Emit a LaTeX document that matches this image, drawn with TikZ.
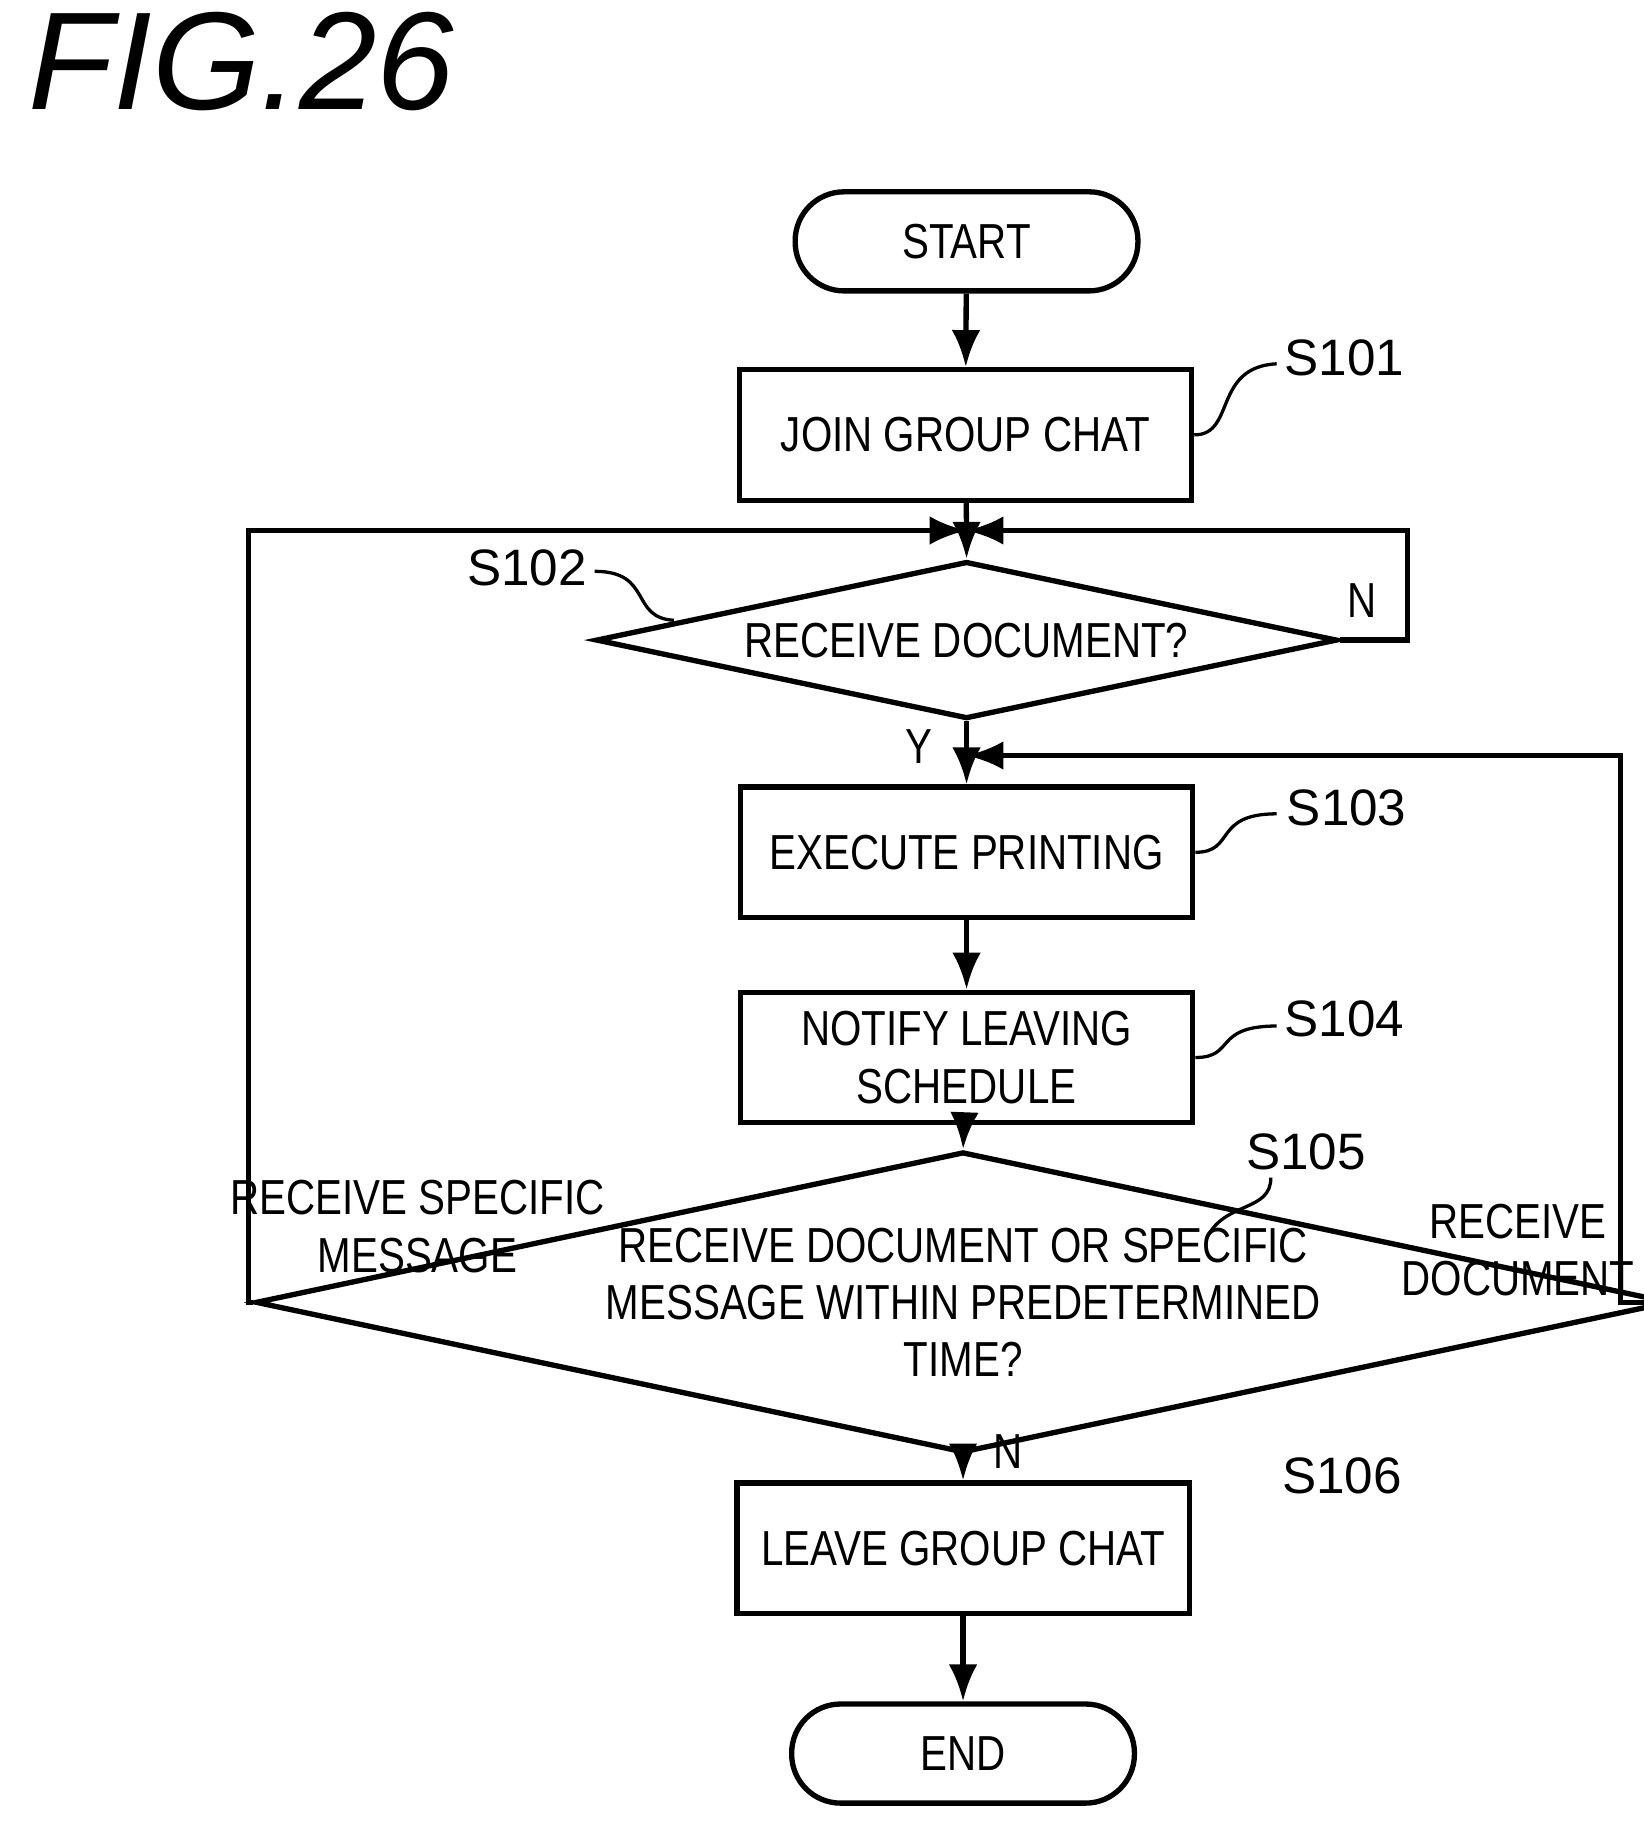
\documentclass[tikz,border=0pt]{standalone}
\usepackage{fontspec}
\setmainfont{Liberation Sans}[FakeStretch=0.82]
\newfontfamily\steplabel{Liberation Sans}
\usetikzlibrary{shapes.geometric,arrows.meta}
\tikzset{
  flow/.style={line width=1.3pt},
  arr/.style={flow,-{Latex[length=9pt,width=7pt]}},
  box/.style={draw,flow,rectangle,minimum width=3.88cm,minimum height=1.12cm,align=center,font=\fontsize{12}{14}\selectfont},
  term/.style={draw,flow,rounded corners=0.42cm,minimum width=2.94cm,minimum height=0.85cm,font=\fontsize{12}{14}\selectfont},
  test/.style={draw,flow,diamond,aspect=4.7,inner sep=0pt,align=center,font=\fontsize{12}{14}\selectfont},
  steptag/.style={font=\steplabel\fontsize{12.5}{14}\selectfont},
  side/.style={align=center,font=\fontsize{12}{14}\selectfont}
}
\begin{document}
\begin{tikzpicture}
            \useasboundingbox (0,0) rectangle (14.1,-15.67);
            \node[anchor=west,font=\steplabel\itshape\fontsize{34}{36}\selectfont] (fig) at (0.12,-0.53) {FIG.26};

            \node[term] (start) at (8.29,-2.07) {START};
            \node[box] (join) at (8.28,-3.73) {JOIN GROUP CHAT};
            \node[test,minimum width=6.36cm,minimum height=1.35cm] (recv) at (8.29,-5.49) {RECEIVE DOCUMENT?};
            \node[box] (print) at (8.29,-7.31) {EXECUTE PRINTING};
            \node[box] (notify) at (8.29,-9.07) {NOTIFY LEAVING\\SCHEDULE};
            \node[test,minimum width=7.97cm,minimum height=2.18cm] (wait) at (8.26,-11.17) {RECEIVE DOCUMENT OR SPECIFIC\\MESSAGE WITHIN PREDETERMINED\\TIME?};
            \node[box] (leave) at (8.26,-13.28) {LEAVE GROUP CHAT};
            \node[term] (end) at (8.26,-15.04) {END};

            % step labels
            \node[steptag] (s101) at (11.53,-3.07) {S101};
            \node[steptag] (s102) at (4.52,-4.87) {S102};
            \node[steptag] (s103) at (11.55,-6.93) {S103};
            \node[steptag] (s104) at (11.53,-8.74) {S104};
            \node[steptag] (s105) at (11.2,-9.88) {S105};
            \node[steptag] (s106) at (11.51,-12.66) {S106};
            \draw[flow,line width=0.8pt] (join.east) .. controls (10.6,-3.73) and (10.4,-3.15) .. (10.95,-3.12);
            \draw[flow,line width=0.8pt] (5.1,-4.9) .. controls (5.6,-4.9) and (5.4,-5.3) .. (5.78,-5.32);
            \draw[flow,line width=0.8pt] (print.east) .. controls (10.6,-7.31) and (10.4,-6.98) .. (10.95,-6.98);
            \draw[flow,line width=0.8pt] (notify.east) .. controls (10.6,-9.07) and (10.4,-8.8) .. (10.95,-8.8);
            \draw[flow,line width=0.8pt] (10.35,-10.62) .. controls (10.5,-10.3) and (10.9,-10.4) .. (10.9,-10.1);

            % loop points
            \coordinate (top) at (8.29,-4.55);
            \coordinate (mid) at (8.29,-6.48);

            \draw[arr] (start) to (join);
            \draw[flow] (join) to (top);
            \draw[arr] (top) to (recv.north);
            \draw[arr] (recv.south) to (print);
            \draw[arr] (print) to (notify);
            \draw[arr] (notify) to (wait.north);
            \draw[arr] (wait.south) to (leave);
            \draw[arr] (leave) to (end);
            \draw[arr] (recv.east) -- (12.07,-5.49) |- (top);
            \draw[arr] (wait.west) -- (2.13,-11.17) |- (top);
            \draw[arr] (wait.east) -- (13.9,-11.17) |- (mid);

            \node[side] (nlab) at (11.68,-5.15) {N};
            \node[side] (ylab) at (7.88,-6.4) {Y};
            \node[side] (nlab2) at (8.65,-12.45) {N};
            \node[side] (msg) at (3.58,-10.52) {RECEIVE SPECIFIC\\MESSAGE};
            \node[side] (doc) at (13.02,-10.72) {RECEIVE\\DOCUMENT};
\end{tikzpicture}
\end{document}
